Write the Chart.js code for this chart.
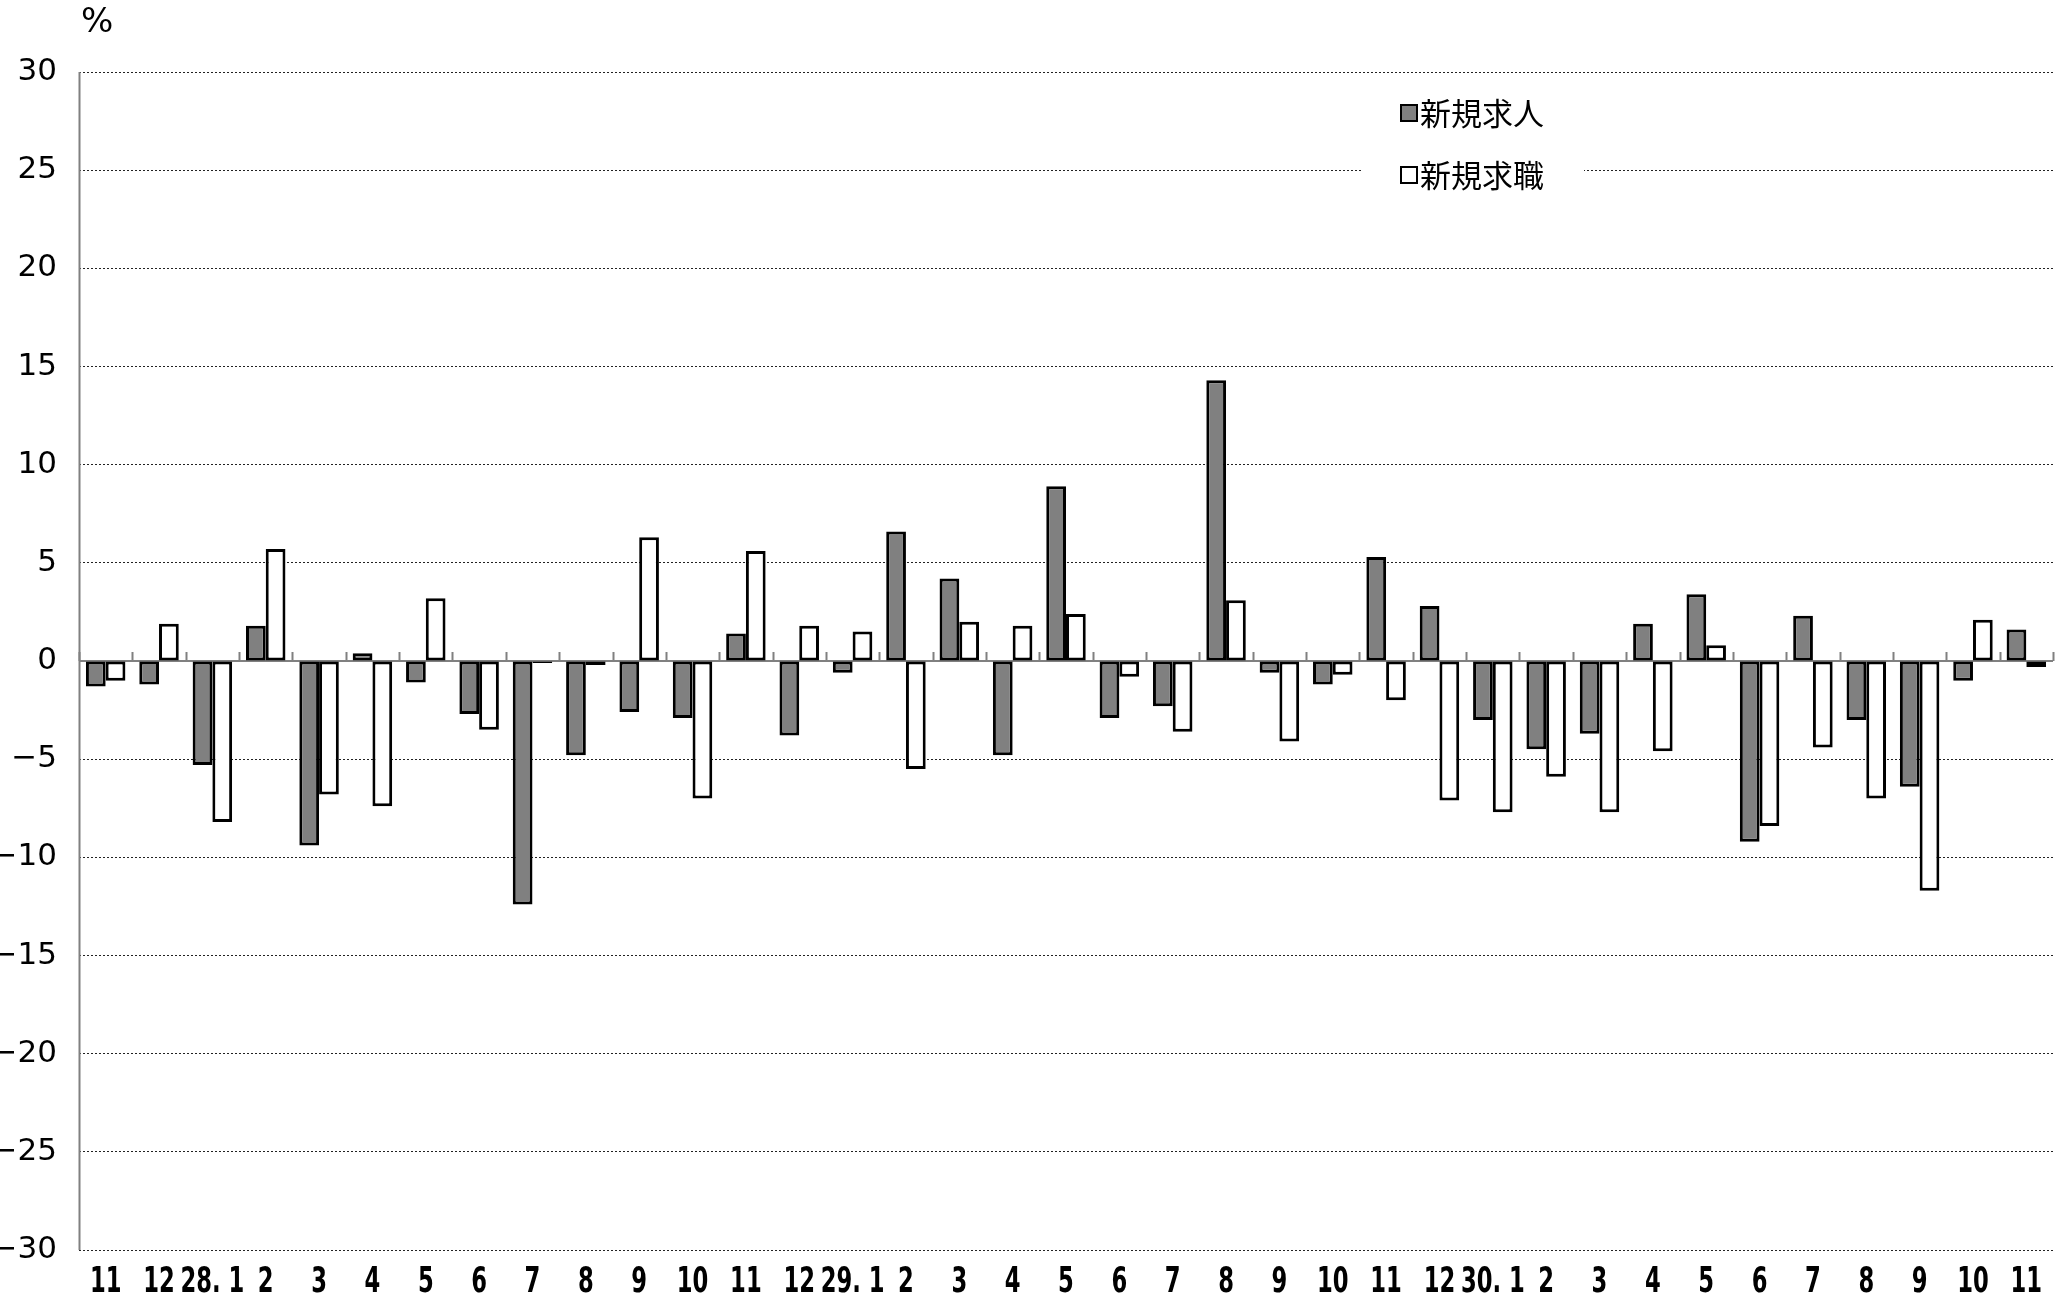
<!DOCTYPE html>
<html>
<head>
<meta charset="utf-8">
<script src="https://cdn.jsdelivr.net/npm/chart.js@4.4.0/dist/chart.umd.min.js"></script>
<style>
  body { margin: 0; background: #fff; }
  #wrap { position: relative; width: 2070px; height: 1302px; }
  #unit { position: absolute; left: 81px; top: 0px; font: 34px "DejaVu Sans", sans-serif; color: #000; }
  #legend { position: absolute; left: 1362px; top: 90px; width: 222px; height: 112px; background: #fff;
            font: 31px "Noto Sans CJK JP", sans-serif; color: #000; }
  .item { position: absolute; left: 58px; height: 40px; line-height: 40px; white-space: nowrap; }
  .box { position: absolute; left: -20px; top: 12px; width: 14px; height: 14px; border: 2px solid #000; }
</style>
</head>
<body>
<div id="wrap">
  <canvas id="grafico" width="2070" height="1302"></canvas>
  <div id="unit">%</div>
  <div id="legend">
    <div class="item" style="top:2px"><span class="box" style="background:#808080"></span>新規求人</div>
    <div class="item" style="top:64px"><span class="box" style="background:#fff"></span>新規求職</div>
  </div>
</div>
<script>
// meses (27.11 - 30.11)
var meses = ['11', '12', '28. 1', '2', '3', '4', '5', '6', '7', '8', '9', '10', '11',
    '12', '29. 1', '2', '3', '4', '5', '6', '7', '8', '9', '10', '11',
    '12', '30. 1', '2', '3', '4', '5', '6', '7', '8', '9', '10', '11'];

// 新規求人 (前年同月比 %)
var kyujin = [-1.3, -1.2, -5.3, 1.8, -9.4, 0.4, -1.1, -2.7, -12.4, -4.8, -2.6, -2.9, 1.4,
    -3.8, -0.6, 6.6, 4.2, -4.8, 8.9, -2.9, -2.3, 14.3, -0.6, -1.2, 5.3,
    2.8, -3.0, -4.5, -3.7, 1.9, 3.4, -9.2, 2.3, -3.0, -6.4, -1.0, 1.6];

// 新規求職 (前年同月比 %)
var kyushoku = [-1.0, 1.9, -8.2, 5.7, -6.8, -7.4, 3.2, -3.5, -0.1, -0.2, 6.3, -7.0, 5.6,
    1.8, 1.5, -5.5, 2.0, 1.8, 2.4, -0.8, -3.6, 3.1, -4.1, -0.7, -2.0,
    -7.1, -7.7, -5.9, -7.7, -4.6, 0.8, -8.4, -4.4, -7.0, -11.7, 2.1, -0.3];

var eixoMin = -30;
var eixoMax = 30;
var passo = 5;

var fonteNum = '"DejaVu Sans", sans-serif';

// linha do zero com marquinhas + eixo da esquerda
var linhaZero = {
    id: 'linhaZero',
    beforeDatasetsDraw: function(chart) {
        var ctx = chart.ctx;
        var x = chart.scales.x;
        var y = chart.scales.y;
        var area = chart.chartArea;
        var y0 = y.getPixelForValue(0);
        var meio = (x.getPixelForValue(1) - x.getPixelForValue(0)) / 2;
        ctx.save();
        ctx.strokeStyle = '#808080';
        ctx.lineWidth = 2;
        ctx.beginPath();
        ctx.moveTo(area.left, y0);
        ctx.lineTo(area.right, y0);
        for (var i = 0; i <= meses.length; i++) {
            var px = Math.round(x.getPixelForValue(i) - meio) + 0.5;
            ctx.moveTo(px, y0);
            ctx.lineTo(px, y0 - 9);
        }
        ctx.stroke();
        ctx.beginPath();
        ctx.moveTo(area.left + 0.5, area.top);
        ctx.lineTo(area.left + 0.5, area.bottom);
        ctx.stroke();
        ctx.restore();
    }
};

// rotulos do eixo x estreitos (fonte condensada nao existe aqui)
var rotulosX = {
    id: 'rotulosX',
    afterDraw: function(chart) {
        var ctx = chart.ctx;
        var x = chart.scales.x;
        var yTexto = chart.chartArea.bottom + 33;
        ctx.save();
        ctx.fillStyle = '#000';
        ctx.font = 'bold 36px ' + fonteNum;
        ctx.textAlign = 'center';
        ctx.textBaseline = 'middle';
        for (var i = 0; i < meses.length; i++) {
            ctx.save();
            ctx.translate(x.getPixelForValue(i), yTexto);
            ctx.scale(0.63, 1);
            ctx.fillText(meses[i], 0, 0);
            ctx.restore();
        }
        ctx.restore();
    }
};

var ctx = document.getElementById('grafico').getContext('2d');
window.myBar = new Chart(ctx, {
    type: 'bar',
    data: {
        labels: meses,
        datasets: [{
            label: '新規求人',
            data: kyujin,
            backgroundColor: '#808080',
            borderColor: '#000',
            borderWidth: 3,
            borderSkipped: false
        }, {
            label: '新規求職',
            data: kyushoku,
            backgroundColor: '#fff',
            borderColor: '#000',
            borderWidth: 3,
            borderSkipped: false
        }]
    },
    options: {
        responsive: false,
        devicePixelRatio: 1,
        animation: false,
        layout: {
            padding: { top: 72, right: 17, bottom: 0, left: 0 }
        },
        datasets: {
            bar: { categoryPercentage: 0.74, barPercentage: 1 }
        },
        plugins: {
            legend: { display: false },
            title: { display: false },
            tooltip: { enabled: false }
        },
        scales: {
            x: {
                grid: { display: false },
                border: { display: false },
                ticks: { display: false },
                afterFit: function(scale) { scale.height = 52; }
            },
            y: {
                min: eixoMin,
                max: eixoMax,
                grid: {
                    color: function(c) { return c.tick.value === 0 ? 'rgba(0,0,0,0)' : '#222'; },
                    lineWidth: 1,
                    drawTicks: false
                },
                border: { display: false, dash: [2, 2] },
                ticks: {
                    stepSize: passo,
                    color: '#000',
                    padding: 22,
                    font: { family: fonteNum, size: 31 },
                    callback: function(v) { return String(v).replace('-', '−'); }
                },
                afterFit: function(scale) { scale.width = 79; }
            }
        }
    },
    plugins: [linhaZero, rotulosX]
});
</script>
</body>
</html>
